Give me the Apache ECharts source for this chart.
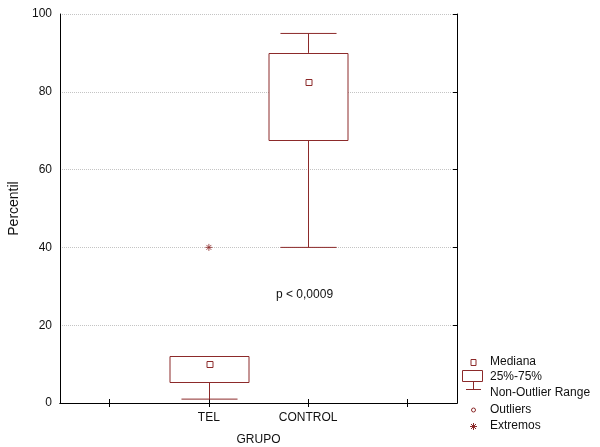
<!DOCTYPE html>
<html>
<head>
<meta charset="utf-8">
<script src="https://cdn.jsdelivr.net/npm/echarts@6/dist/echarts.min.js"></script>
<style>html,body{margin:0;padding:0;background:#fff;}#c{width:600px;height:447px;}</style>
</head>
<body>
<div id="c"></div>
<script>
// Data
var axisCategories = ['', 'TEL', 'CONTROL', ''];
var groups = ['TEL', 'CONTROL'];
var whiskerLow = [1, 40];
var q1 = [5.3, 67.6];
var median = [10, 82.5];
var q3 = [12, 90];
var whiskerHigh = [12, 95];
var extremes = [['TEL', 40]];
var yTicks = [0, 20, 40, 60, 80, 100];

var RED = '#8c2a2a';
var FONT = 'Liberation Sans';

var boxData = groups.map(function (g, i) {
  return [g, whiskerLow[i], q1[i], median[i], q3[i], whiskerHigh[i]];
});

function renderBox(params, api) {
  var x = api.value(0);
  var pLow = api.coord([x, api.value(1)]);
  var pQ1 = api.coord([x, api.value(2)]);
  var pMed = api.coord([x, api.value(3)]);
  var pQ3 = api.coord([x, api.value(4)]);
  var pHigh = api.coord([x, api.value(5)]);
  var band = api.size([1, 0])[0];
  var bw = band * 0.8;
  var cw = band * 0.565;
  var cx = Math.round(pMed[0]) + 0.5;
  var st = { stroke: RED, lineWidth: 1, fill: null };
  var children = [];
  children.push({ type: 'line', shape: { x1: cx, y1: pQ1[1], x2: cx, y2: pLow[1] }, style: st });
  children.push({ type: 'line', shape: { x1: cx - cw / 2, y1: pLow[1], x2: cx + cw / 2, y2: pLow[1] }, style: st });
  if (api.value(5) > api.value(4)) {
    children.push({ type: 'line', shape: { x1: cx, y1: pQ3[1], x2: cx, y2: pHigh[1] }, style: st });
    children.push({ type: 'line', shape: { x1: cx - cw / 2, y1: pHigh[1], x2: cx + cw / 2, y2: pHigh[1] }, style: st });
  }
  children.push({ type: 'rect', shape: { x: Math.round(cx - bw / 2), y: Math.round(pQ3[1]) + 0.5, width: Math.round(bw), height: Math.round(pQ1[1] - pQ3[1]) }, style: { stroke: RED, lineWidth: 1, fill: '#fff' } });
  children.push({ type: 'rect', shape: { x: Math.round(cx - 2.5), y: Math.round(pMed[1] - 3) + 0.5, width: 6, height: 6 }, style: { stroke: RED, lineWidth: 1, fill: '#fff' } });
  return { type: 'group', children: children };
}

function ln(x1, y1, x2, y2) {
  return { type: 'line', shape: { x1: x1, y1: y1, x2: x2, y2: y2 }, style: { stroke: RED, lineWidth: 1 } };
}
function txt(x, y, s) {
  return { type: 'text', x: x, y: y, style: { text: s, font: '12px "Liberation Sans"', fill: '#111', verticalAlign: 'middle' } };
}

var chart = echarts.init(document.getElementById('c'), null, { renderer: 'canvas' });
var labelStyle = { color: '#111', fontFamily: FONT, fontSize: 12 };
var option = {
  backgroundColor: '#fff',
  animation: false,
  grid: { left: 60, right: 143, top: 14, bottom: 44, containLabel: false, outerBoundsMode: 'none' },
  xAxis: [{
    type: 'category',
    data: axisCategories,
    boundaryGap: true,
    position: 'bottom',
    name: 'GRUPO',
    nameLocation: 'middle',
    nameGap: 31,
    nameTextStyle: labelStyle,
    axisLine: { show: true, lineStyle: { color: '#000', width: 1 } },
    axisTick: { show: true, inside: false, alignWithLabel: true, length: -4, lineStyle: { color: '#000' } },
    axisLabel: Object.assign({ margin: 9, interval: 0 }, labelStyle),
    splitLine: { show: false }
  }, {
    type: 'category',
    data: axisCategories,
    boundaryGap: true,
    position: 'top',
    axisLine: { show: true, lineStyle: { color: '#000', width: 1 } },
    axisTick: { show: true, inside: false, alignWithLabel: true, length: -4, lineStyle: { color: '#000' } },
    axisLabel: { show: false },
    splitLine: { show: false }
  }],
  yAxis: [{
    type: 'value',
    min: 0,
    max: 100,
    interval: 20,
    position: 'left',
    name: 'Percentil',
    nameLocation: 'middle',
    nameGap: 29,
    nameTextStyle: { color: '#111', fontFamily: FONT, fontSize: 14 },
    axisLine: { show: true, lineStyle: { color: '#000', width: 1 } },
    axisTick: { show: false },
    axisLabel: Object.assign({ margin: 8 }, labelStyle),
    splitLine: { show: true, lineStyle: { color: '#c4c4c4', type: 'dotted', width: 1 } }
  }, {
    type: 'value',
    min: 0,
    max: 100,
    interval: 20,
    position: 'right',
    axisLine: { show: true, lineStyle: { color: '#000', width: 1 } },
    axisTick: { show: true, inside: false, length: -4, lineStyle: { color: '#000' } },
    axisLabel: { show: false },
    splitLine: { show: false }
  }],
  series: [{
    type: 'custom',
    xAxisIndex: 0,
    yAxisIndex: 0,
    renderItem: renderBox,
    encode: { x: 0, y: [1, 2, 3, 4, 5] },
    data: boxData,
    z: 5
  }, {
    type: 'scatter',
    xAxisIndex: 0,
    yAxisIndex: 0,
    data: extremes,
    symbol: 'path://M0,5L10,5M5,0L5,10M1.5,1.5L8.5,8.5M8.5,1.5L1.5,8.5',
    symbolSize: 7,
    itemStyle: { color: 'none', borderColor: RED, borderWidth: 1 },
    z: 6
  }],
  graphic: [
    txt(276, 295, 'p < 0,0009'),
    { type: 'rect', shape: { x: 471, y: 359.5, width: 5, height: 6 }, style: { stroke: RED, fill: '#fff', lineWidth: 1 } },
    { type: 'rect', shape: { x: 462.5, y: 370.5, width: 20, height: 11 }, style: { stroke: RED, fill: '#fff', lineWidth: 1 } },
    ln(473.5, 381.5, 473.5, 389.5),
    ln(466, 389.5, 481, 389.5),
    { type: 'circle', shape: { cx: 473.5, cy: 410, r: 2 }, style: { stroke: RED, fill: 'none', lineWidth: 1 } },
    ln(470, 426.5, 477, 426.5),
    ln(473.5, 423, 473.5, 430),
    ln(471, 424, 476, 429),
    ln(476, 424, 471, 429),
    txt(490, 362, 'Mediana'),
    txt(490, 377, '25%-75%'),
    txt(490, 393, 'Non-Outlier Range'),
    txt(490, 410, 'Outliers'),
    txt(490, 426, 'Extremos')
  ]
};
chart.setOption(option);
</script>
</body>
</html>
